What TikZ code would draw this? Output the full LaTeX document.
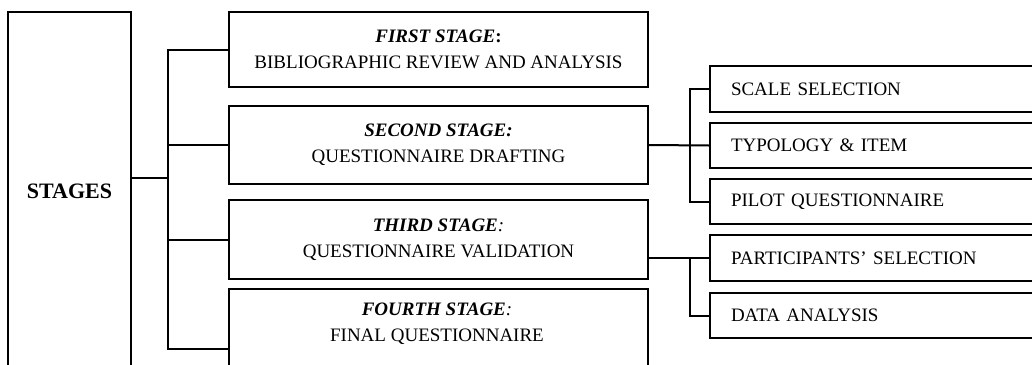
\documentclass[tikz,border=0pt]{standalone}
\usepackage{fontspec}
\setmainfont{Liberation Serif}
\begin{document}
\begin{tikzpicture}[x=1pt,y=-1pt,line width=2pt,
  box/.style={draw=black,rectangle,inner sep=0pt,anchor=north west},
  stagebox/.style={box,minimum width=419pt,align=center,font=\fontsize{19}{26}\selectfont},
  subbox/.style={box,minimum height=46pt,text width=318pt,inner xsep=21pt,align=left,font=\fontsize{19}{22}\selectfont},
  stagetext/.style={align=center,font=\fontsize{19}{26}\selectfont,inner sep=0pt}]
\useasboundingbox (0,0) rectangle (1032,364);
\begin{scope}
\clip (0,0) rectangle (1032,364);
\node[box,minimum width=123pt,minimum height=358pt,font=\fontsize{22}{26}\selectfont\bfseries] (stages) at (7,11) {STAGES};
\node[stagebox,minimum height=75pt] (s1) at (228,11) {\textbf{\textit{FIRST STAGE}}\textbf{:}\\BIBLIOGRAPHIC REVIEW AND ANALYSIS};
\node[stagebox,minimum height=78pt] (s2) at (228,105) {\textbf{\textit{SECOND STAGE:}}\\QUESTIONNAIRE DRAFTING};
\node[stagebox,minimum height=79pt] (s3) at (228,199) {\textbf{\textit{THIRD STAGE}}\textit{:}\\QUESTIONNAIRE VALIDATION};
\node[stagebox,minimum height=120pt] (s4) at (228,288) {};
\node[stagetext] (s4t) at (437,324) {\textbf{\textit{FOURTH STAGE}}\textit{:}\\FINAL QUESTIONNAIRE};
\node[subbox] (scale) at (709,65) {SCALE SELECTION};
\node[subbox,minimum height=45pt] (typ) at (709,122) {TYPOLOGY \& ITEM};
\node[subbox,minimum height=45pt] (pilot) at (709,178) {PILOT QUESTIONNAIRE};
\node[subbox] (part) at (709,234) {PARTICIPANTS’ SELECTION};
\node[subbox,minimum height=45pt] (data) at (709,292) {DATA ANALYSIS};
\coordinate (tk) at (168,0);
\coordinate (st) at (690,0);
\draw (stages.east |- 0,178) -- (tk |- 0,178);
\draw (s1.west) -- (s1.west -| tk) |- (s4.west);
\draw (s2.west) -- (s2.west -| tk);
\draw (s3.west) -- (s3.west -| tk);
\draw (s2.east) -- (typ.west);
\draw (scale.west) -- (scale.west -| st) |- (pilot.west);
\draw (s3.east |- part.west) -- (part.west);
\draw (part.west -| st) |- (data.west);
\end{scope}
\end{tikzpicture}
\end{document}
